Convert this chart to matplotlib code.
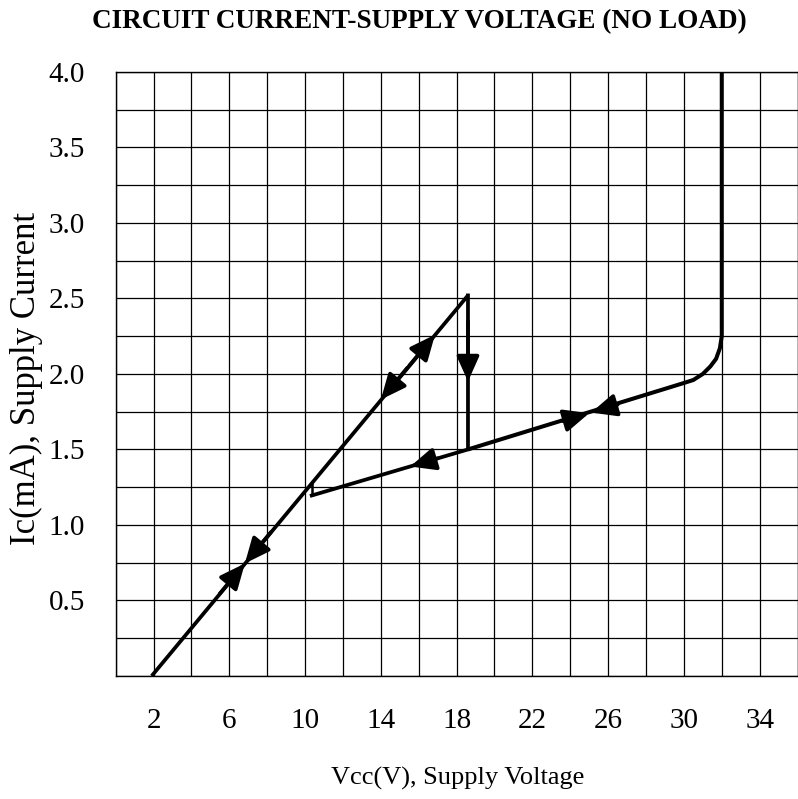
import numpy as np
import matplotlib.pyplot as plt

plt.rcParams['font.family'] = ['Liberation Serif', 'DejaVu Serif']

# rising branch, Vcc up to the trip point
rise_v = [1.9, 18.6]
rise_i = [0.0, 2.52]

# drop at the trip point and the lower branch back to the hook
drop_v = [18.6, 18.6, 10.35]
drop_i = [2.52, 1.50, 1.195]

# little hook joining the lower branch to the rising one
hook_v = [10.35, 10.35]
hook_i = [1.195, 1.276]

# upper part of the lower branch up to the clamp
clamp_v = [18.6, 30.0, 30.5, 31.0, 31.4, 31.7, 31.9, 32.0, 32.0]
clamp_i = [1.50, 1.94, 1.96, 2.00, 2.05, 2.10, 2.17, 2.25, 4.0]

# arrow heads: tip (v, i) and a point behind it on the same line
arrow_tips = [(6.82, 0.745), (6.82, 0.745), (16.86, 2.26), (14.0, 1.83),
              (18.6, 1.95), (15.55, 1.387), (25.0, 1.74), (25.1, 1.744)]
arrow_tails = [(5.5, 0.546), (8.2, 0.953), (15.5, 2.055), (15.4, 2.041),
               (18.6, 2.35), (17.0, 1.441), (23.6, 1.688), (26.5, 1.796)]

x_ticks = [2, 6, 10, 14, 18, 22, 26, 30, 34]
y_ticks = [0.5, 1.0, 1.5, 2.0, 2.5, 3.0, 3.5, 4.0]

fig = plt.figure(figsize=(7.98, 7.99), dpi=100)
ax = fig.add_axes([0.145, 0.154, 0.8544, 0.756])

ax.set_xlim(0, 36)
ax.set_ylim(0, 4.0)
ax.set_xticks(np.arange(0, 37, 2), minor=True)
ax.set_yticks(np.arange(0, 4.01, 0.25), minor=True)
ax.set_xticks(x_ticks)
ax.set_yticks(y_ticks)
ax.set_xticklabels([str(t) for t in x_ticks])
ax.set_yticklabels(['%.1f' % t for t in y_ticks])
ax.grid(which='both', color='black', linewidth=0.9)
ax.set_axisbelow(True)
ax.tick_params(which='both', length=0)
ax.tick_params(axis='x', pad=23, labelsize=21)
ax.tick_params(axis='y', pad=22, labelsize=21)
for s in ax.spines.values():
    s.set_linewidth(1.0)

ax.plot(rise_v, rise_i, color='black', lw=2.7, solid_capstyle='butt')
ax.plot(drop_v, drop_i, color='black', lw=2.7, solid_joinstyle='miter')
ax.plot(hook_v, hook_i, color='black', lw=1.8, solid_joinstyle='miter')
ax.plot(clamp_v, clamp_i, color='black', lw=2.9, solid_capstyle='butt',
        solid_joinstyle='round')

for tip, tail in zip(arrow_tips, arrow_tails):
    ax.annotate('', xy=tip, xytext=tail,
                arrowprops=dict(arrowstyle='-|>,head_length=0.85,head_width=0.38',
                                mutation_scale=18, color='black', lw=2.7,
                                shrinkA=0, shrinkB=0))

fig.text(419 / 798, 1 - 22 / 799, 'CIRCUIT CURRENT-SUPPLY VOLTAGE (NO LOAD)',
         ha='center', va='center', fontsize=19.5, fontweight='bold')
fig.text(458 / 798, 1 - 778 / 799, 'Vcc(V), Supply Voltage',
         ha='center', va='center', fontsize=19)
fig.text(26 / 798, 1 - 378 / 799, 'Ic(mA), Supply Current',
         ha='center', va='center', fontsize=25, rotation=90)

fig.savefig('out.png', dpi=100)
